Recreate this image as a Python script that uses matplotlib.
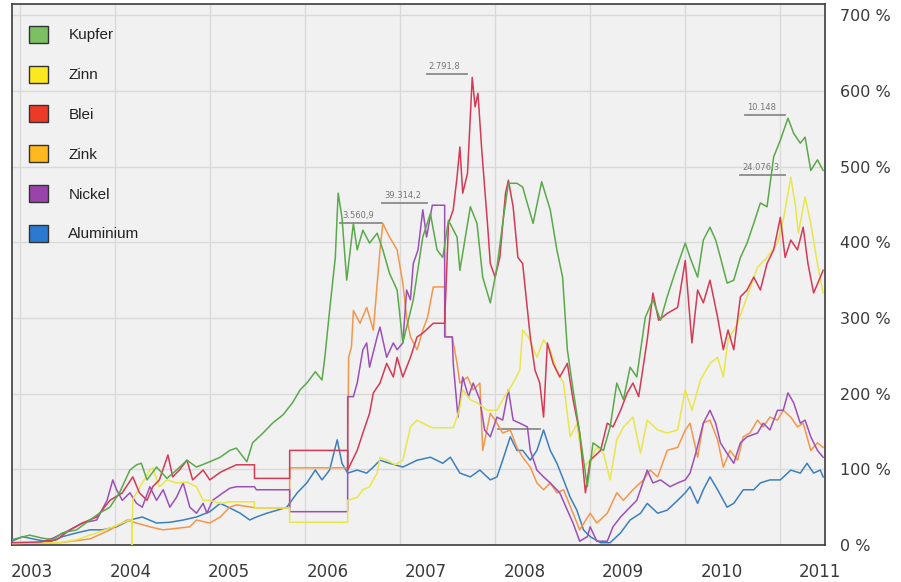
import matplotlib
matplotlib.use('Agg')
import matplotlib.pyplot as plt
from matplotlib.patches import Patch
import numpy as np

# --- data: decimal year, change since start of 2003 in percent ---
kupfer_t = [2002.92, 2003.105, 2003.24, 2003.35, 2003.45, 2003.60, 2003.74, 2003.84, 2003.95, 2004.05,
            2004.16, 2004.23, 2004.28, 2004.34, 2004.44, 2004.55, 2004.65, 2004.76, 2004.86, 2005.00,
            2005.11, 2005.21, 2005.28, 2005.39, 2005.45, 2005.56, 2005.66, 2005.77, 2005.87, 2005.95,
            2006.02, 2006.11, 2006.18, 2006.21, 2006.26, 2006.32, 2006.35, 2006.39, 2006.44, 2006.51,
            2006.55, 2006.61, 2006.68, 2006.76, 2006.82, 2006.89, 2006.97, 2007.03, 2007.14, 2007.24,
            2007.32, 2007.39, 2007.45, 2007.51, 2007.60, 2007.63, 2007.74, 2007.81, 2007.87, 2007.95,
            2008.02, 2008.08, 2008.14, 2008.23, 2008.29, 2008.40, 2008.49, 2008.58, 2008.65, 2008.71,
            2008.76, 2008.81, 2008.89, 2008.97, 2009.03, 2009.14, 2009.21, 2009.28, 2009.35, 2009.42,
            2009.49, 2009.58, 2009.66, 2009.74, 2009.81, 2009.89, 2010.00, 2010.05, 2010.13, 2010.19,
            2010.26, 2010.32, 2010.37, 2010.44, 2010.51, 2010.58, 2010.65, 2010.72, 2010.79, 2010.86,
            2010.93, 2011.00, 2011.08, 2011.14, 2011.21, 2011.26, 2011.32, 2011.39, 2011.45]
kupfer_v = [7, 13, 9, 7, 16, 20, 33, 42, 50, 69,
            99, 106, 108, 86, 103, 88, 99, 112, 103, 110,
            116, 125, 128, 110, 135, 148, 161, 172, 188, 205,
            214, 229, 218, 248, 310, 380, 465, 433, 350, 425,
            390, 416, 399, 412, 390, 359, 337, 267, 324, 407,
            438, 390, 380, 429, 407, 363, 447, 425, 354, 320,
            367, 425, 478, 478, 473, 425, 480, 443, 390, 354,
            258, 214, 148, 77, 135, 125, 156, 214, 192, 235,
            222, 301, 324, 297, 328, 359, 399, 380, 354, 403,
            420, 403, 380, 346, 350, 380, 399, 425, 452, 447,
            513, 535, 564, 544, 531, 539, 495, 509, 495]

zinn_t = [2002.92, 2003.42, 2003.60, 2003.81, 2003.98, 2004.16, 2004.18, 2004.18, 2004.19, 2004.23,
          2004.37, 2004.40, 2004.47, 2004.55, 2004.65, 2004.76, 2004.86, 2004.93, 2005.00, 2005.11,
          2005.21, 2005.47, 2005.47, 2005.84, 2005.84, 2006.45, 2006.45, 2006.55, 2006.61, 2006.68,
          2006.76, 2006.79, 2006.86, 2006.95, 2007.03, 2007.11, 2007.18, 2007.24, 2007.32, 2007.35,
          2007.56, 2007.60, 2007.63, 2007.66, 2007.74, 2007.81, 2007.92, 2008.02, 2008.08, 2008.19,
          2008.26, 2008.29, 2008.35, 2008.44, 2008.51, 2008.58, 2008.65, 2008.72, 2008.79, 2008.86,
          2008.93, 2009.00, 2009.07, 2009.14, 2009.21, 2009.28, 2009.35, 2009.45, 2009.53, 2009.60,
          2009.71, 2009.81, 2009.92, 2010.00, 2010.07, 2010.16, 2010.26, 2010.34, 2010.40, 2010.45,
          2010.55, 2010.65, 2010.76, 2010.86, 2010.97, 2011.03, 2011.11, 2011.16, 2011.19, 2011.26,
          2011.32, 2011.39, 2011.45]
zinn_v = [2, 3, 7, 16, 24, 33, 33, -5, 60, 69,
          99, 102, 77, 86, 82, 83, 77, 59, 59, 55,
          57, 57, 49, 49, 30, 30, 59, 63, 73, 77,
          95, 116, 112, 106, 112, 156, 165, 161, 156, 155,
          155, 169, 182, 205, 192, 188, 178, 178, 192, 214,
          231, 284, 275, 248, 271, 258, 231, 214, 143, 160,
          103, 112, 129, 121, 86, 139, 156, 169, 121, 165,
          152, 148, 152, 205, 178, 218, 240, 248, 222, 271,
          293, 328, 367, 380, 399, 429, 486, 447, 412, 460,
          425, 372, 333]

blei_t = [2002.92, 2003.21, 2003.39, 2003.53, 2003.66, 2003.81, 2003.95, 2004.08, 2004.19, 2004.26,
          2004.34, 2004.40, 2004.47, 2004.56, 2004.61, 2004.68, 2004.76, 2004.82, 2004.93, 2005.00,
          2005.11, 2005.21, 2005.28, 2005.47, 2005.47, 2005.84, 2005.84, 2006.45, 2006.45, 2006.55,
          2006.61, 2006.68, 2006.72, 2006.79, 2006.86, 2006.93, 2006.97, 2007.03, 2007.11, 2007.18,
          2007.24, 2007.35, 2007.47, 2007.51, 2007.56, 2007.60, 2007.63, 2007.66, 2007.71, 2007.76,
          2007.79, 2007.82, 2007.86, 2007.92, 2007.95, 2008.00, 2008.05, 2008.11, 2008.14, 2008.19,
          2008.24, 2008.29, 2008.37, 2008.42, 2008.47, 2008.51, 2008.55, 2008.61, 2008.68, 2008.76,
          2008.82, 2008.89, 2008.95, 2009.00, 2009.11, 2009.18, 2009.24, 2009.32, 2009.39, 2009.45,
          2009.51, 2009.60, 2009.66, 2009.72, 2009.81, 2009.92, 2010.00, 2010.07, 2010.13, 2010.19,
          2010.26, 2010.34, 2010.40, 2010.45, 2010.51, 2010.58, 2010.65, 2010.72, 2010.79, 2010.86,
          2010.93, 2011.00, 2011.05, 2011.11, 2011.18, 2011.24, 2011.29, 2011.35, 2011.42, 2011.45]
blei_v = [3, 4, 7, 20, 29, 37, 59, 69, 90, 69,
          59, 77, 86, 119, 90, 99, 112, 86, 99, 86,
          96, 102, 106, 106, 88, 88, 125, 125, 99, 125,
          148, 174, 201, 214, 240, 222, 248, 222, 248, 275,
          280, 293, 293, 425, 443, 486, 526, 465, 491, 618,
          579, 597, 522, 425, 372, 354, 380, 465, 482, 447,
          380, 372, 275, 231, 214, 169, 267, 240, 222, 240,
          192, 148, 69, 112, 125, 161, 156, 178, 201, 214,
          196, 271, 333, 297, 306, 314, 376, 267, 337, 320,
          350, 301, 258, 284, 258, 328, 337, 354, 337, 372,
          390, 433, 380, 403, 390, 420, 372, 333, 354, 363]

zink_t = [2002.92, 2003.42, 2003.74, 2003.95, 2004.13, 2004.23, 2004.37, 2004.51, 2004.65, 2004.79,
          2004.86, 2005.00, 2005.11, 2005.21, 2005.28, 2005.49, 2005.84, 2005.84, 2006.45, 2006.46,
          2006.49, 2006.51, 2006.58, 2006.65, 2006.72, 2006.79, 2006.82, 2006.89, 2006.97, 2007.03,
          2007.07, 2007.11, 2007.18, 2007.24, 2007.29, 2007.35, 2007.47, 2007.48, 2007.55, 2007.60,
          2007.63, 2007.71, 2007.77, 2007.84, 2007.87, 2007.95, 2008.02, 2008.08, 2008.16, 2008.23,
          2008.29, 2008.37, 2008.44, 2008.51, 2008.58, 2008.65, 2008.72, 2008.82, 2008.89, 2009.00,
          2009.07, 2009.18, 2009.28, 2009.35, 2009.45, 2009.56, 2009.63, 2009.71, 2009.81, 2009.92,
          2010.00, 2010.05, 2010.13, 2010.19, 2010.26, 2010.34, 2010.40, 2010.47, 2010.55, 2010.61,
          2010.68, 2010.76, 2010.82, 2010.89, 2010.97, 2011.03, 2011.11, 2011.18, 2011.24, 2011.32,
          2011.39, 2011.45]
zink_v = [2, 3, 8, 20, 33, 29, 24, 20, 22, 24,
          33, 29, 37, 50, 53, 49, 49, 102, 102, 248,
          262, 310, 293, 314, 284, 390, 425, 407, 390, 346,
          301, 275, 258, 284, 301, 341, 341, 275, 275, 240,
          214, 222, 205, 214, 125, 174, 161, 148, 152, 129,
          116, 103, 82, 73, 82, 69, 73, 42, 20, 42,
          29, 42, 69, 59, 73, 86, 99, 90, 125, 129,
          152, 161, 116, 161, 165, 139, 103, 125, 112, 143,
          148, 165, 156, 169, 165, 178, 169, 156, 161, 125,
          135, 129]

nickel_t = [2002.92, 2003.21, 2003.35, 2003.53, 2003.66, 2003.81, 2003.92, 2003.98, 2004.02, 2004.08,
            2004.16, 2004.23, 2004.29, 2004.37, 2004.44, 2004.51, 2004.58, 2004.65, 2004.72, 2004.79,
            2004.86, 2004.93, 2004.97, 2005.03, 2005.14, 2005.21, 2005.28, 2005.47, 2005.49, 2005.84,
            2005.84, 2006.45, 2006.45, 2006.51, 2006.55, 2006.61, 2006.65, 2006.68, 2006.76, 2006.79,
            2006.86, 2006.93, 2006.97, 2007.03, 2007.07, 2007.11, 2007.14, 2007.19, 2007.24, 2007.28,
            2007.34, 2007.47, 2007.47, 2007.55, 2007.56, 2007.61, 2007.66, 2007.72, 2007.77, 2007.84,
            2007.89, 2007.95, 2008.02, 2008.08, 2008.14, 2008.19, 2008.26, 2008.34, 2008.37, 2008.44,
            2008.51, 2008.58, 2008.68, 2008.76, 2008.82, 2008.89, 2008.97, 2009.00, 2009.07, 2009.18,
            2009.24, 2009.32, 2009.42, 2009.49, 2009.60, 2009.66, 2009.74, 2009.84, 2009.92, 2010.00,
            2010.05, 2010.11, 2010.19, 2010.26, 2010.32, 2010.37, 2010.44, 2010.51, 2010.58, 2010.65,
            2010.76, 2010.82, 2010.89, 2010.97, 2011.03, 2011.08, 2011.14, 2011.21, 2011.26, 2011.32,
            2011.39, 2011.45]
nickel_v = [2, 3, 9, 20, 29, 33, 59, 86, 73, 59,
            69, 55, 50, 77, 59, 73, 50, 63, 82, 50,
            42, 55, 42, 59, 69, 75, 77, 77, 73, 73,
            44, 44, 196, 196, 214, 258, 267, 235, 275, 288,
            248, 267, 258, 267, 337, 324, 372, 390, 443, 407,
            449, 449, 275, 275, 240, 169, 222, 196, 214, 192,
            152, 143, 169, 165, 205, 165, 161, 156, 125, 99,
            90, 82, 69, 46, 29, 5, 11, 24, 5, 5,
            24, 37, 50, 59, 99, 82, 86, 77, 82, 86,
            95, 121, 161, 178, 161, 135, 121, 108, 135, 143,
            148, 161, 152, 178, 178, 201, 188, 161, 165, 143,
            125, 116]

alu_t = [2002.92, 2003.03, 2003.18, 2003.32, 2003.45, 2003.60, 2003.74, 2003.87, 2004.02, 2004.16,
         2004.29, 2004.44, 2004.58, 2004.72, 2004.86, 2005.00, 2005.11, 2005.21, 2005.32, 2005.42,
         2005.49, 2005.60, 2005.71, 2005.81, 2005.92, 2006.02, 2006.11, 2006.18, 2006.26, 2006.34,
         2006.39, 2006.45, 2006.55, 2006.65, 2006.72, 2006.79, 2006.89, 2007.03, 2007.18, 2007.32,
         2007.45, 2007.53, 2007.63, 2007.74, 2007.84, 2007.95, 2008.02, 2008.08, 2008.16, 2008.23,
         2008.29, 2008.37, 2008.44, 2008.51, 2008.58, 2008.65, 2008.72, 2008.79, 2008.86, 2008.93,
         2009.00, 2009.11, 2009.21, 2009.32, 2009.42, 2009.53, 2009.60, 2009.71, 2009.81, 2009.92,
         2010.00, 2010.05, 2010.13, 2010.19, 2010.26, 2010.34, 2010.44, 2010.51, 2010.61, 2010.72,
         2010.79, 2010.89, 2011.00, 2011.11, 2011.21, 2011.28, 2011.35, 2011.42, 2011.45]
alu_v = [5, 11, 7, 4, 11, 16, 20, 20, 24, 33,
         37, 29, 30, 33, 37, 44, 55, 49, 42, 33,
         37, 42, 46, 50, 69, 82, 99, 86, 99, 139,
         108, 95, 99, 95, 103, 112, 108, 103, 112, 116,
         108, 116, 95, 90, 99, 86, 90, 112, 143, 125,
         125, 112, 125, 152, 125, 108, 86, 63, 46, 20,
         11, 3, 3, 16, 33, 42, 55, 42, 46, 59,
         69, 77, 55, 73, 90, 73, 50, 55, 73, 73,
         82, 86, 86, 99, 95, 108, 95, 99, 90]

# price labels at the highs (text, start, end, level)
notes_txt = ['3.560,9', '39.314,2', '2.791,8', '', '24.076,3', '10.148']
notes_t0 = [2006.37, 2006.81, 2007.28, 2008.03, 2010.58, 2010.63]
notes_t1 = [2006.81, 2007.28, 2007.71, 2008.47, 2011.05, 2011.05]
notes_v = [425, 452, 623, 153, 489, 568]

year_labels = ['2003', '2004', '2005', '2006', '2007', '2008', '2009', '2010', '2011']

series = [
    ('Aluminium', alu_t, alu_v, '#3b7fbf', '#2a7bcf'),
    ('Zink', zink_t, zink_v, '#f5964a', '#ffb81e'),
    ('Nickel', nickel_t, nickel_v, '#9b50b8', '#9a44ab'),
    ('Zinn', zinn_t, zinn_v, '#e9e64a', '#fbe81f'),
    ('Blei', blei_t, blei_v, '#d43a55', '#ec3a26'),
    ('Kupfer', kupfer_t, kupfer_v, '#5aa94a', '#7cc063'),
]
legend_order = ['Kupfer', 'Zinn', 'Blei', 'Zink', 'Nickel', 'Aluminium']

fig = plt.figure(figsize=(9.01, 5.82), dpi=100)
ax = fig.add_axes([0.0133, 0.0636, 0.9024, 0.9296])
ax.set_facecolor('#f1f1f1')

for name, t, v, lc, _ in series:
    ax.plot(t, v, color=lc, lw=1.1, zorder=3)

for txt, t0, t1, v in zip(notes_txt, notes_t0, notes_t1, notes_v):
    ax.plot([t0, t1], [v, v], color='#8a8a8a', lw=1.3, zorder=2)
    if txt:
        ax.text(t0 + 0.02, v + 4, txt, fontsize=6, color='#777777', ha='left', va='bottom', zorder=2)

ax.set_xlim(2002.92, 2011.47)
ax.set_ylim(0, 715)

# grid at year boundaries, labels where the original placed them
ax.set_xticks(np.arange(2003, 2012), minor=True)
ax.set_xticks(2003.13 + np.arange(len(year_labels)) * 1.036)
ax.set_xticklabels(year_labels)
ax.grid(which='minor', axis='x', color='#d9d9d9', lw=1.0, zorder=0)
ax.set_yticks(np.arange(0, 701, 100))
ax.set_yticklabels([f'{v} %' for v in range(0, 701, 100)])
ax.grid(which='major', axis='y', color='#d9d9d9', lw=1.0, zorder=0)
ax.set_axisbelow(True)

ax.yaxis.tick_right()
ax.tick_params(axis='both', which='both', length=0)
ax.tick_params(axis='y', pad=11, labelsize=11.5, labelcolor='#3a3a3a')
ax.tick_params(axis='x', pad=13, labelsize=12, labelcolor='#3a3a3a')
for lab in ax.get_xticklabels() + ax.get_yticklabels():
    lab.set_family(['Liberation Sans Narrow', 'DejaVu Sans'])

for sp in ax.spines.values():
    sp.set_color('#3c3c3c')
    sp.set_linewidth(1.2)

colors = {name: fc for name, _, _, _, fc in series}
handles = [Patch(facecolor=colors[n], edgecolor='#333333', lw=1.0, label=n) for n in legend_order]
leg = ax.legend(handles=handles, loc='upper left', bbox_to_anchor=(0.0035, 0.985), frameon=False,
                handlelength=1.3, handleheight=1.35, labelspacing=1.48, handletextpad=1.3,
                prop={'family': ['Liberation Sans', 'DejaVu Sans'], 'size': 11})
for t in leg.get_texts():
    t.set_color('#222222')

fig.savefig('out.png', dpi=100)
